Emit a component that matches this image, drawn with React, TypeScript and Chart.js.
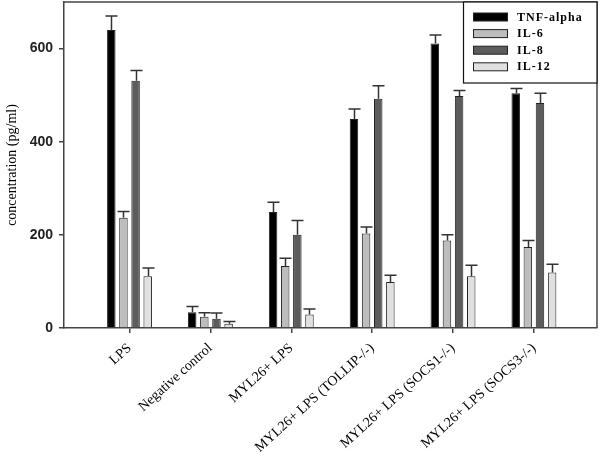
import React, { useEffect, useRef } from "react";
import { Chart, registerables } from "chart.js";

Chart.register(...registerables);

const categories = [
  "LPS",
  "Negative control",
  "MYL26+ LPS",
  "MYL26+ LPS (TOLLIP-/-)",
  "MYL26+ LPS (SOCS1-/-)",
  "MYL26+ LPS (SOCS3-/-)",
];
const seriesNames = ["TNF-alpha", "IL-6", "IL-8", "IL-12"];
const tnfAlpha = [640, 34, 249, 449, 611, 504];
const tnfAlphaErr = [30, 12, 21, 21, 18, 10];
const il6 = [237, 24, 133, 203, 188, 174];
const il6Err = [13, 9, 17, 14, 12, 14];
const il8 = [531, 20, 200, 492, 498, 483];
const il8Err = [22, 12, 31, 28, 12, 21];
const il12 = [111, 9, 29, 99, 111, 119];
const il12Err = [18, 5, 12, 14, 24, 18];
const yTicks = [0, 200, 400, 600];

const seriesValues = [tnfAlpha, il6, il8, il12];
const seriesErrors = [tnfAlphaErr, il6Err, il8Err, il12Err];
const seriesColors = ["#000000", "#bdbdbd", "#5c5c5c", "#e0e0e0"];

const frameColor = "#444";

const errorBarPlugin = {
  id: "errorBars",
  afterDatasetsDraw(chart: any) {
    const ctx = chart.ctx;
    const yScale = chart.scales.y;
    ctx.save();
    ctx.strokeStyle = "#333";
    ctx.lineWidth = 1.5;
    chart.data.datasets.forEach((ds: any, di: number) => {
      const meta = chart.getDatasetMeta(di);
      const errs = seriesErrors[di];
      meta.data.forEach((bar: any, i: number) => {
        const v = seriesValues[di][i];
        const top = yScale.getPixelForValue(v + errs[i]);
        const x = Math.round(bar.x) + 0.5;
        ctx.beginPath();
        ctx.moveTo(x, bar.y);
        ctx.lineTo(x, top);
        ctx.moveTo(x - 6, top);
        ctx.lineTo(x + 6, top);
        ctx.stroke();
      });
    });
    ctx.restore();
  },
};

const framePlugin = {
  id: "frameAndLegend",
  afterDraw(chart: any) {
    const ctx = chart.ctx;
    const { left, right, top, bottom } = chart.chartArea;
    ctx.save();
    ctx.strokeStyle = frameColor;
    ctx.lineWidth = 1.5;
    ctx.beginPath();
    ctx.moveTo(left, top);
    ctx.lineTo(right, top);
    ctx.lineTo(right, bottom);
    ctx.stroke();

    // legend box
    const bx = 463;
    const by = top;
    const bw = right - bx;
    const bh = 81;
    ctx.fillStyle = "#fff";
    ctx.fillRect(bx, by, bw, bh);
    ctx.strokeStyle = "#111";
    ctx.lineWidth = 1.2;
    ctx.strokeRect(bx + 0.5, by, bw - 0.5, bh);
    ctx.font = "bold 12px 'Liberation Serif'";
    (ctx as any).letterSpacing = "1px";
    ctx.textBaseline = "middle";
    ctx.textAlign = "left";
    seriesNames.forEach((name, i) => {
      const cy = 17 + i * 16.6;
      ctx.fillStyle = seriesColors[i];
      ctx.fillRect(473.5, cy - 4, 34, 8);
      ctx.strokeStyle = "#222";
      ctx.lineWidth = 1;
      ctx.strokeRect(473.5, cy - 4, 34, 8);
      ctx.fillStyle = "#000";
      ctx.fillText(name, 517, cy + 0.5);
    });
    ctx.restore();
  },
};

export default function App() {
  const canvasRef = useRef<HTMLCanvasElement | null>(null);

  useEffect(() => {
    if (!canvasRef.current) return;
    const chart = new Chart(canvasRef.current, {
      type: "bar",
      data: {
        datasets: seriesNames.map((name, di) => ({
          label: name,
          data: seriesValues[di].map((v, i) => ({ x: i, y: v })),
          backgroundColor: seriesColors[di],
          borderColor: "#222",
          borderWidth: 1,
          categoryPercentage: 0.6,
          barPercentage: 0.7,
        })),
      },
      options: {
        animation: false,
        responsive: false,
        events: [],
        layout: { padding: { top: 2, right: 3, left: 0, bottom: 0 } },
        plugins: {
          legend: { display: false },
          tooltip: { enabled: false },
        },
        scales: {
          x: {
            type: "linear",
            offset: false,
            min: -0.81,
            max: 5.78,
            afterBuildTicks: (s: any) => {
              s.ticks = categories.map((_, i) => ({ value: i }));
            },
            afterFit: (s: any) => {
              s.height = 127;
              s.paddingLeft = 0;
              s.paddingRight = 0;
            },
            grid: {
              offset: false,
              drawOnChartArea: false,
              drawTicks: true,
              tickLength: 5,
              color: frameColor,
              lineWidth: 1.5,
            },
            border: { color: frameColor, width: 1.5 },
            ticks: {
              callback: (_v: any, i: number) => categories[i],
              autoSkip: false,
              minRotation: 42,
              maxRotation: 42,
              padding: 7,
              color: "#000",
              font: { family: "'Liberation Serif'", size: 14 },
            },
          },
          y: {
            min: 0,
            max: 700,
            afterBuildTicks: (s: any) => {
              s.ticks = yTicks.map((v) => ({ value: v }));
            },
            afterFit: (s: any) => {
              s.width = 64;
              s.paddingTop = 0;
              s.paddingBottom = 0;
            },
            grid: {
              drawOnChartArea: false,
              drawTicks: true,
              tickLength: 5,
              color: frameColor,
              lineWidth: 1.5,
            },
            border: { color: frameColor, width: 1.5 },
            title: {
              display: true,
              text: "concentration (pg/ml)",
              color: "#000",
              font: { family: "'Liberation Serif'", size: 14 },
              padding: { top: 4, bottom: 0 },
            },
            ticks: {
              padding: 6,
              color: "#222",
              font: { family: "'Liberation Sans'", size: 14, weight: "bold" },
            },
          },
        },
      },
      plugins: [errorBarPlugin, framePlugin],
    } as any);
    return () => chart.destroy();
  }, []);

  return (
    <div style={{ position: "absolute", left: 0, top: 0, width: 600, height: 455, background: "#fff" }}>
      <canvas ref={canvasRef} width={600} height={455} style={{ display: "block" }} />
    </div>
  );
}
